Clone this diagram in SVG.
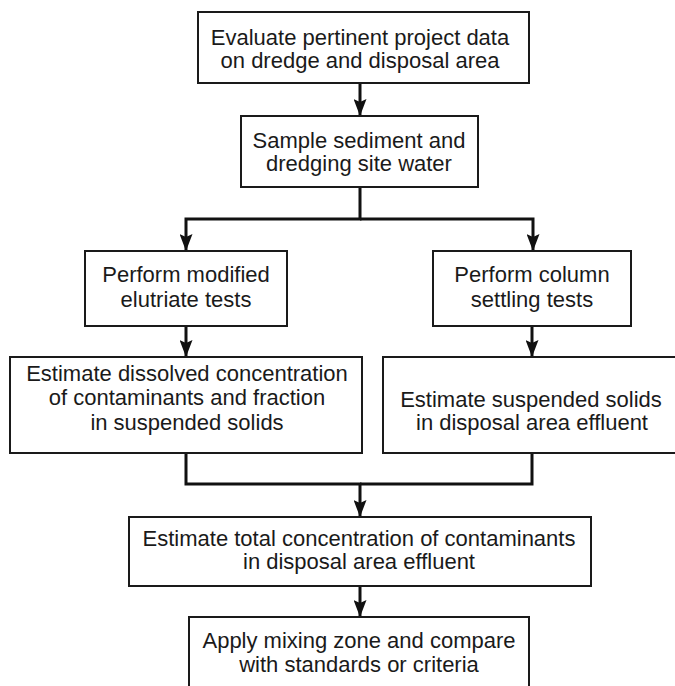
<svg xmlns="http://www.w3.org/2000/svg" width="675" height="686" viewBox="0 0 675 686">
  <style>
    .box { fill: #ffffff; stroke: #1a1a1a; stroke-width: 2; }
    .lbl { font-family: "Liberation Sans", Arial, sans-serif; font-size: 22px; fill: #1a1a1a; text-anchor: middle; }
    .conn { fill: none; stroke: #111111; stroke-width: 3; stroke-linejoin: miter; }
  </style>
  <defs>
    <marker id="arrow" markerUnits="userSpaceOnUse" markerWidth="17" markerHeight="13" viewBox="0 0 17 13" refX="17" refY="6.5" orient="auto">
      <path d="M0,0 L17,6.5 L0,13 L3,6.5 z" fill="#111111"/>
    </marker>
  </defs>
  <rect width="675" height="686" fill="#ffffff"/>

  <g id="connectors">
    <path class="conn" d="M360,84 V116" marker-end="url(#arrow)"/>
    <path class="conn" d="M360,188 V219 H186 V251" marker-end="url(#arrow)"/>
    <path class="conn" d="M360,219 H533 V251" marker-end="url(#arrow)"/>
    <path class="conn" d="M186,327 V357" marker-end="url(#arrow)"/>
    <path class="conn" d="M532,327 V357" marker-end="url(#arrow)"/>
    <path class="conn" d="M186,454 V484 H360 V517" marker-end="url(#arrow)"/>
    <path class="conn" d="M532,454 V484 H360"/>
    <path class="conn" d="M360,587 V617" marker-end="url(#arrow)"/>
  </g>

  <g id="n1">
    <rect class="box" x="198" y="12" width="331" height="71"/>
    <text class="lbl" x="360" y="45">Evaluate pertinent project data</text>
    <text class="lbl" x="360" y="68">on dredge and disposal area</text>
  </g>
  <g id="n2">
    <rect class="box" x="241" y="116" width="237" height="71"/>
    <text class="lbl" x="359" y="148">Sample sediment and</text>
    <text class="lbl" x="359" y="171">dredging site water</text>
  </g>
  <g id="n3">
    <rect class="box" x="85" y="251" width="202" height="75"/>
    <text class="lbl" x="186" y="282">Perform modified</text>
    <text class="lbl" x="186" y="307">elutriate tests</text>
  </g>
  <g id="n4">
    <rect class="box" x="433" y="251" width="198" height="75"/>
    <text class="lbl" x="532" y="282">Perform column</text>
    <text class="lbl" x="532" y="307">settling tests</text>
  </g>
  <g id="n5">
    <rect class="box" x="10" y="357" width="352" height="96"/>
    <text class="lbl" x="187" y="381">Estimate dissolved concentration</text>
    <text class="lbl" x="187" y="405">of contaminants and fraction</text>
    <text class="lbl" x="187" y="430">in suspended solids</text>
  </g>
  <g id="n6">
    <rect class="box" x="383" y="357" width="300" height="96"/>
    <text class="lbl" x="531" y="407">Estimate suspended solids</text>
    <text class="lbl" x="532" y="430">in disposal area effluent</text>
  </g>
  <g id="n7">
    <rect class="box" x="129" y="517" width="462" height="69"/>
    <text class="lbl" x="359" y="546">Estimate total concentration of contaminants</text>
    <text class="lbl" x="359" y="569">in disposal area effluent</text>
  </g>
  <g id="n8">
    <rect class="box" x="189" y="617" width="340" height="90"/>
    <text class="lbl" x="359" y="648">Apply mixing zone and compare</text>
    <text class="lbl" x="359" y="672">with standards or criteria</text>
  </g>
</svg>
